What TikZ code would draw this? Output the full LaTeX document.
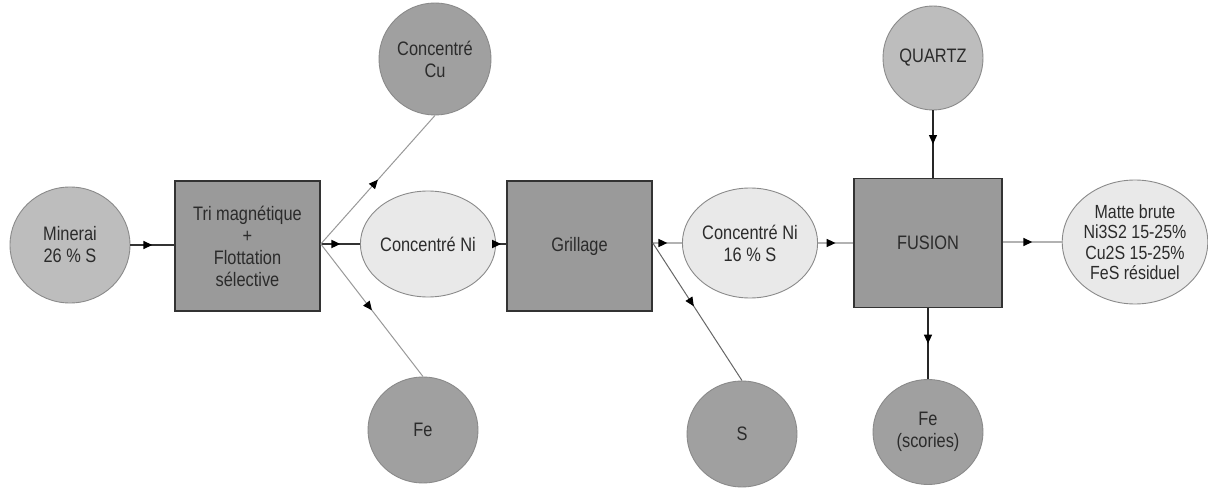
\documentclass[tikz,border=0pt]{standalone}
\usepackage{fontspec}
\setmainfont{Liberation Sans}[FakeStretch=0.84]
\usetikzlibrary{shapes.geometric,arrows.meta,decorations.markings}
\definecolor{txt}{HTML}{2B2B2B}
\definecolor{edge}{HTML}{8A8A8A}
\definecolor{boxfill}{HTML}{9A9A9A}
\definecolor{darkfill}{HTML}{A0A0A0}
\definecolor{midfill}{HTML}{BDBDBD}
\definecolor{lightfill}{HTML}{E9E9E9}
\begin{document}
\begin{tikzpicture}[x=1pt,y=-1pt,
  every node/.style={text=txt,align=center,font=\fontsize{19.5}{22}\selectfont,inner sep=0pt},
  blob/.style={ellipse,draw=edge,line width=0.9pt},
  darkblob/.style={blob,fill=darkfill},
  midblob/.style={blob,fill=midfill},
  lightblob/.style={blob,fill=lightfill},
  unit/.style={rectangle,draw=black!80,line width=1.6pt,fill=boxfill},
  midarrow/.style={postaction={decorate,decoration={markings,
      mark=at position #1 with {\arrow[black]{Triangle[length=9pt,width=8pt]}}}}},
  midarrow/.default=0.5,
  strong/.style={draw=black!80,line width=1.8pt,midarrow},
  thin/.style={draw=black!40,line width=1pt,midarrow},
  grey/.style={draw=black!60,line width=1pt,midarrow=0.46},
  pale/.style={draw=black!30,line width=1.6pt,midarrow},
  feed/.style={draw=black!85,line width=1.2pt,midarrow}]

% canvas
\fill[white] (0,0) rectangle (1208,489);
\useasboundingbox (0,0) rectangle (1208,489);

% process units
\node[unit,minimum width=145pt,minimum height=130pt] (tri) at (247.5,246) {Tri magnétique\\+\\Flottation\\sélective};
\node[unit,minimum width=145pt,minimum height=130pt] (gri) at (579.5,246) {Grillage};
\node[unit,minimum width=148pt,minimum height=129pt] (fus) at (928,243) {FUSION};

% streams
\node[midblob,minimum width=120pt,minimum height=116pt] (min) at (70,245) {Minerai\\26 \% S};
\node[darkblob,minimum width=112pt,minimum height=112pt] (cu) at (435,59) {Concentré\\Cu};
\node[lightblob,minimum width=118pt,minimum height=106pt] (ni) at (428,244) {Concentré Ni};
\node[darkblob,minimum width=110pt,minimum height=106pt] (fe) at (423,430) {Fe};
\node[lightblob,minimum width=114pt,minimum height=110pt] (ni16) at (750,243) {Concentré Ni\\16 \% S};
\node[darkblob,minimum width=110pt,minimum height=106pt] (s) at (742,434) {S};
\node[midblob,minimum width=100pt,minimum height=104pt] (qz) at (933,58) {QUARTZ};
\node[darkblob,minimum width=110pt,minimum height=105pt] (fes) at (928,432) {Fe\\(scories)};
\node[lightblob,minimum width=124pt,minimum height=124pt,font=\fontsize{19}{20.5}\selectfont] (mat) at (1135,242) {Matte brute\\Ni3S2 15-25\%\\Cu2S 15-25\%\\FeS résiduel};

% connectors
\draw[strong,line width=1.5pt] (min.east) -- (tri.west |- min.east);
\draw[strong] (tri.east |- ni.west) -- (ni.west);
\draw[thin] (tri.east |- ni.west) -- (cu.south);
\draw[thin] (tri.east |- ni.west) -- (fe.north);
\draw[strong] (ni.east) -- (gri.west |- ni.east);
\draw[pale] (gri.east |- ni16.west) -- (ni16.west);
\draw[grey] (gri.east |- ni16.west) -- (s.north);
\draw[pale] (ni16.east) -- (fus.west |- ni16.east);
\draw[pale] (fus.east |- mat.west) -- (mat.west);
\draw[feed] (qz.south) -- (fus.north -| qz.south);
\draw[feed] (fus.south -| fes.north) -- (fes.north);
\end{tikzpicture}
\end{document}
